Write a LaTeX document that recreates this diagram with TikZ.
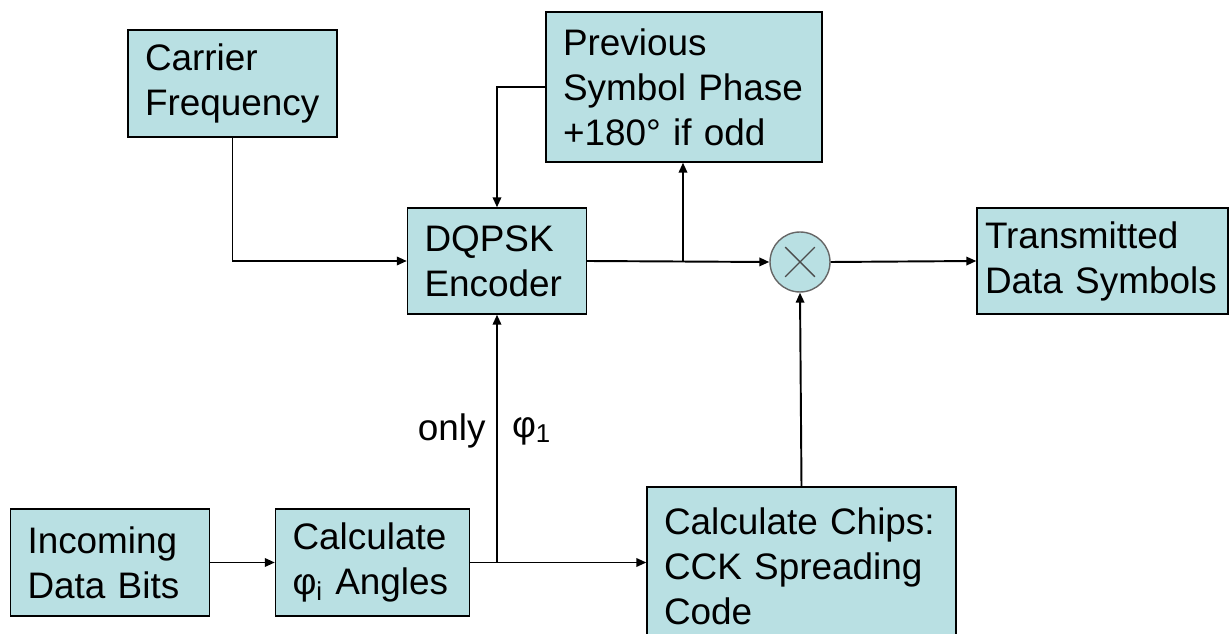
\documentclass[tikz,border=0pt]{standalone}
\usepackage{fontspec}
\setmainfont{Liberation Sans}
\usepackage{tikz}
\usetikzlibrary{calc,arrows.meta}
\definecolor{tealbox}{HTML}{B9E0E3}

\begin{document}
\begin{tikzpicture}[x=0.02cm,y=-0.02cm,
  blk/.style={draw=black,line width=0.8pt,fill=tealbox,align=left,inner xsep=0.34cm,
    font=\fontsize{21}{25.6}\selectfont},
  flow/.style={line width=1.1pt,-{Triangle[length=0.2cm,width=0.17cm]}}]
\useasboundingbox (0,0) rectangle (1231,634);
\node[blk,minimum width=4.18cm,minimum height=2.14cm,text width=3.5cm] (carrier) at (232.5,83.5) {Carrier\\Frequency};
\node[blk,minimum width=5.52cm,minimum height=3cm,text width=4.84cm] (prev) at (684,87) {Previous\\Symbol Phase\\+180° if odd};
\node[blk,minimum width=3.44cm,minimum height=2.12cm,text width=2.9cm] (dqpsk) at (497,261) {DQPSK\\Encoder};
\node[draw=gray!80!black,line width=0.8pt,fill=tealbox,circle,minimum size=1.2cm,inner sep=0pt] (mult) at (800,262) {};
\draw[line width=0.8pt,gray!60!black] ($(mult.center)+(45:21)$)--($(mult.center)+(225:21)$) ($(mult.center)+(135:21)$)--($(mult.center)+(315:21)$);
\node[blk,minimum width=5.02cm,minimum height=2.12cm,text width=4.7cm,inner xsep=0.16cm] (tx) at (1102.5,261) {Transmitted\\Data Symbols};
\node[blk,minimum width=3.88cm,minimum height=2.14cm,text width=3.3cm] (bits) at (110,562.5) {Incoming\\Data Bits};
\node[blk,minimum width=3.74cm,minimum height=2.14cm,text width=3.2cm] (angles) at (372.5,562.5) {Calculate\\φ\textsubscript{i} Angles};
\node[blk,minimum width=6.14cm,minimum height=3.16cm,text width=5.5cm] (cck) at (801.5,566) {Calculate Chips:\\CCK Spreading\\Code};
% connectors
\coordinate (j1) at (683,262);
\coordinate (j2) at (dqpsk.south |- angles.east);
\draw[flow] (carrier.south) |- (dqpsk.west);
\draw[flow] (prev.west) -| (dqpsk.north);
\draw[flow] (dqpsk.east) -- (mult.west);
\draw[flow] (j1) -- (j1 |- prev.south);
\draw[flow] (mult.east) -- (tx.west);
\draw[flow] (cck.north) -- (mult.south);
\draw[flow] (bits.east) -- (angles.west);
\draw[flow] (angles.east) -- (angles.east -| cck.west);
\draw[flow] (j2) -- (dqpsk.south)
  node[pos=0.53,left,inner sep=6pt,font=\fontsize{21}{25.6}\selectfont]{only}
  node[pos=0.53,right,inner sep=8pt,font=\fontsize{21}{25.6}\selectfont]{φ\textsubscript{1}};
\end{tikzpicture}
\end{document}
